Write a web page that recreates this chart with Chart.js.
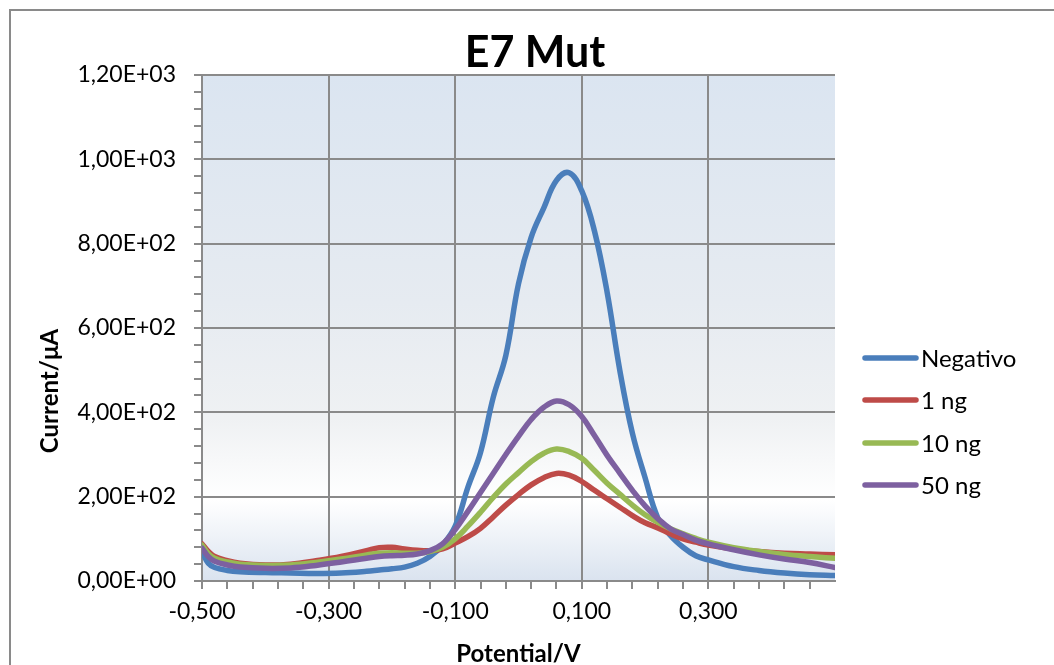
<!DOCTYPE html>
<html>
<head>
<meta charset="utf-8">
<script src="https://cdn.jsdelivr.net/npm/chart.js@4/dist/chart.umd.min.js"></script>
<style>
html,body{margin:0;padding:0;background:#fff;}
#wrap{width:1054px;height:665px;position:relative;}
</style>
</head>
<body>
<div id="wrap"><canvas id="c" width="1054" height="665"></canvas></div>
<script>
const chartTitle = 'E7 Mut';
const xTitle = 'Potential/V';
const yTitle = 'Current/μA';
const seriesNames = ['Negativo', '1 ng', '10 ng', '50 ng'];
const seriesColors = ['#4a7ebb', '#be4b48', '#98b954', '#7d60a0'];

const potential = [-0.50,-0.49,-0.48,-0.46,-0.44,-0.40,-0.36,-0.32,-0.28,-0.24,-0.22,-0.20,-0.18,-0.16,-0.14,-0.12,-0.10,-0.08,-0.06,-0.04,-0.02,0.00,0.02,0.04,0.06,0.08,0.10,0.12,0.14,0.16,0.18,0.20,0.22,0.24,0.26,0.28,0.30,0.34,0.38,0.42,0.46,0.50];
const negativo = [70,42,32,25,22,20,19,18,19,23,26,29,33,42,58,85,130,222,305,435,535,705,815,885,950,968,925,830,685,500,350,245,150,108,80,60,50,34,25,19,15,13];
const ng1 = [88,70,58,48,42,38,40,48,58,72,79,80,76,73,72,76,90,105,125,152,180,205,228,245,255,251,236,215,195,175,155,138,126,112,100,92,85,76,70,66,64,62];
const ng10 = [85,65,54,45,40,37,38,44,52,62,66,67,66,66,70,80,100,130,163,198,230,257,283,303,313,307,291,262,232,206,180,157,139,124,112,101,92,79,70,63,58,54];
const ng50 = [78,58,47,38,33,30,31,37,45,54,58,60,61,64,72,88,122,165,210,255,300,343,383,412,427,418,390,345,298,256,215,178,148,124,110,97,88,74,62,52,44,32];

const xMin = -0.5, xMax = 0.5, xMinor = 0.04, xMajorEvery = 5;
const yMin = 0, yMax = 1200, yMinor = 40, yMajor = 200;

const FONT = 'Lato, "Noto Sans", sans-serif';
const GRID = '#8a8a8a';

function fmtY(v){
  if (v === 0) return '0,00E+00';
  const e = Math.floor(Math.log10(Math.abs(v)));
  const m = v / Math.pow(10, e);
  return m.toFixed(2).replace('.', ',') + 'E' + (e >= 0 ? '+' : '-') + String(Math.abs(e)).padStart(2, '0');
}
function fmtX(v){
  return v.toFixed(3).replace('.', ',');
}
function isXMajor(v){
  const k = Math.round((v - xMin) / xMinor);
  return k % xMajorEvery === 0;
}
function isXLast(v){ return Math.abs(v - xMax) < 1e-6; }
function isYMajor(v){ return Math.round(v) % yMajor === 0; }

const allSeries = [negativo, ng1, ng10, ng50];
const datasets = allSeries.map((arr, i) => ({
  label: seriesNames[i],
  data: arr.map((y, j) => ({x: potential[j], y: y})),
  borderColor: seriesColors[i],
  backgroundColor: seriesColors[i],
  borderWidth: 5.5,
  pointRadius: 0,
  tension: 0.4,
  borderCapStyle: 'round',
  borderJoinStyle: 'round',
  fill: false,
  order: allSeries.length - 1 - i
}));

const decorPlugin = {
  id: 'decor',
  beforeDraw(chart){
    const ctx = chart.ctx, a = chart.chartArea;
    ctx.save();
    ctx.fillStyle = '#ffffff';
    ctx.fillRect(0, 0, chart.width, chart.height);
    const g = ctx.createLinearGradient(0, a.top, 0, a.bottom);
    g.addColorStop(0, '#dbe5f1');
    g.addColorStop(0.45, '#e6ebf1');
    g.addColorStop(0.68, '#eff1f3');
    g.addColorStop(0.84, '#ffffff');
    g.addColorStop(1, '#dae3ef');
    ctx.fillStyle = g;
    ctx.fillRect(a.left, a.top, a.right - a.left, a.bottom - a.top);
    ctx.restore();
  },
  afterDraw(chart){
    const ctx = chart.ctx, a = chart.chartArea;
    ctx.save();
    ctx.strokeStyle = '#8a8a8a';
    ctx.lineWidth = 2;
    ctx.beginPath();
    ctx.moveTo(10, chart.height + 2);
    ctx.lineTo(10, 10);
    ctx.lineTo(chart.width + 2, 10);
    ctx.stroke();
    ctx.fillStyle = '#000';
    ctx.textAlign = 'center';
    ctx.textBaseline = 'middle';
    ctx.font = 'bold 43px ' + FONT;
    ctx.fillText(chartTitle, 535, 53);
    ctx.font = 'bold 24px ' + FONT;
    ctx.fillText(xTitle, (a.left + a.right) / 2, 654);
    ctx.save();
    ctx.translate(50, 391);
    ctx.rotate(-Math.PI / 2);
    ctx.fillText(yTitle, 0, 0);
    ctx.restore();
    const rows = [358, 400, 443, 485];
    ctx.font = '24px ' + FONT;
    ctx.textAlign = 'left';
    chart.data.datasets.forEach((d, i) => {
      const y = rows[i];
      ctx.strokeStyle = d.borderColor;
      ctx.lineWidth = 5.5;
      ctx.lineCap = 'round';
      ctx.beginPath();
      ctx.moveTo(865, y);
      ctx.lineTo(916, y);
      ctx.stroke();
      ctx.fillStyle = '#000';
      ctx.fillText(d.label, 921, y + 1);
    });
    ctx.restore();
  }
};

new Chart(document.getElementById('c'), {
  type: 'line',
  data: { datasets },
  options: {
    responsive: false,
    animation: false,
    layout: { padding: { left: 0, top: 75, right: 219, bottom: 0 } },
    plugins: { legend: { display: false }, title: { display: false }, tooltip: { enabled: false } },
    scales: {
      x: {
        type: 'linear',
        min: xMin, max: xMax,
        afterFit(s){ s.height = 84; },
        border: { display: true, color: GRID, width: 2 },
        grid: {
          color: c => (isXMajor(c.tick.value) && !isXLast(c.tick.value)) ? GRID : 'rgba(0,0,0,0)',
          tickColor: c => isXLast(c.tick.value) ? 'rgba(0,0,0,0)' : GRID,
          lineWidth: 2,
          tickWidth: 2,
          tickLength: 8,
          drawOnChartArea: true
        },
        ticks: {
          stepSize: xMinor,
          autoSkip: false,
          maxRotation: 0,
          padding: 9,
          color: '#000',
          font: { family: FONT, size: 23 },
          callback: v => (isXMajor(v) && !isXLast(v)) ? fmtX(v) : ''
        }
      },
      y: {
        type: 'linear',
        min: yMin, max: yMax,
        afterFit(s){ s.width = 202; },
        border: { display: true, color: GRID, width: 2 },
        grid: {
          color: c => isYMajor(c.tick.value) ? GRID : 'rgba(0,0,0,0)',
          tickColor: GRID,
          lineWidth: 2,
          tickWidth: 2,
          tickLength: 8
        },
        ticks: {
          stepSize: yMinor,
          autoSkip: false,
          padding: 18,
          color: '#000',
          font: { family: FONT, size: 23 },
          callback: v => isYMajor(v) ? fmtY(v) : ''
        }
      }
    }
  },
  plugins: [decorPlugin]
});
</script>
</body>
</html>
